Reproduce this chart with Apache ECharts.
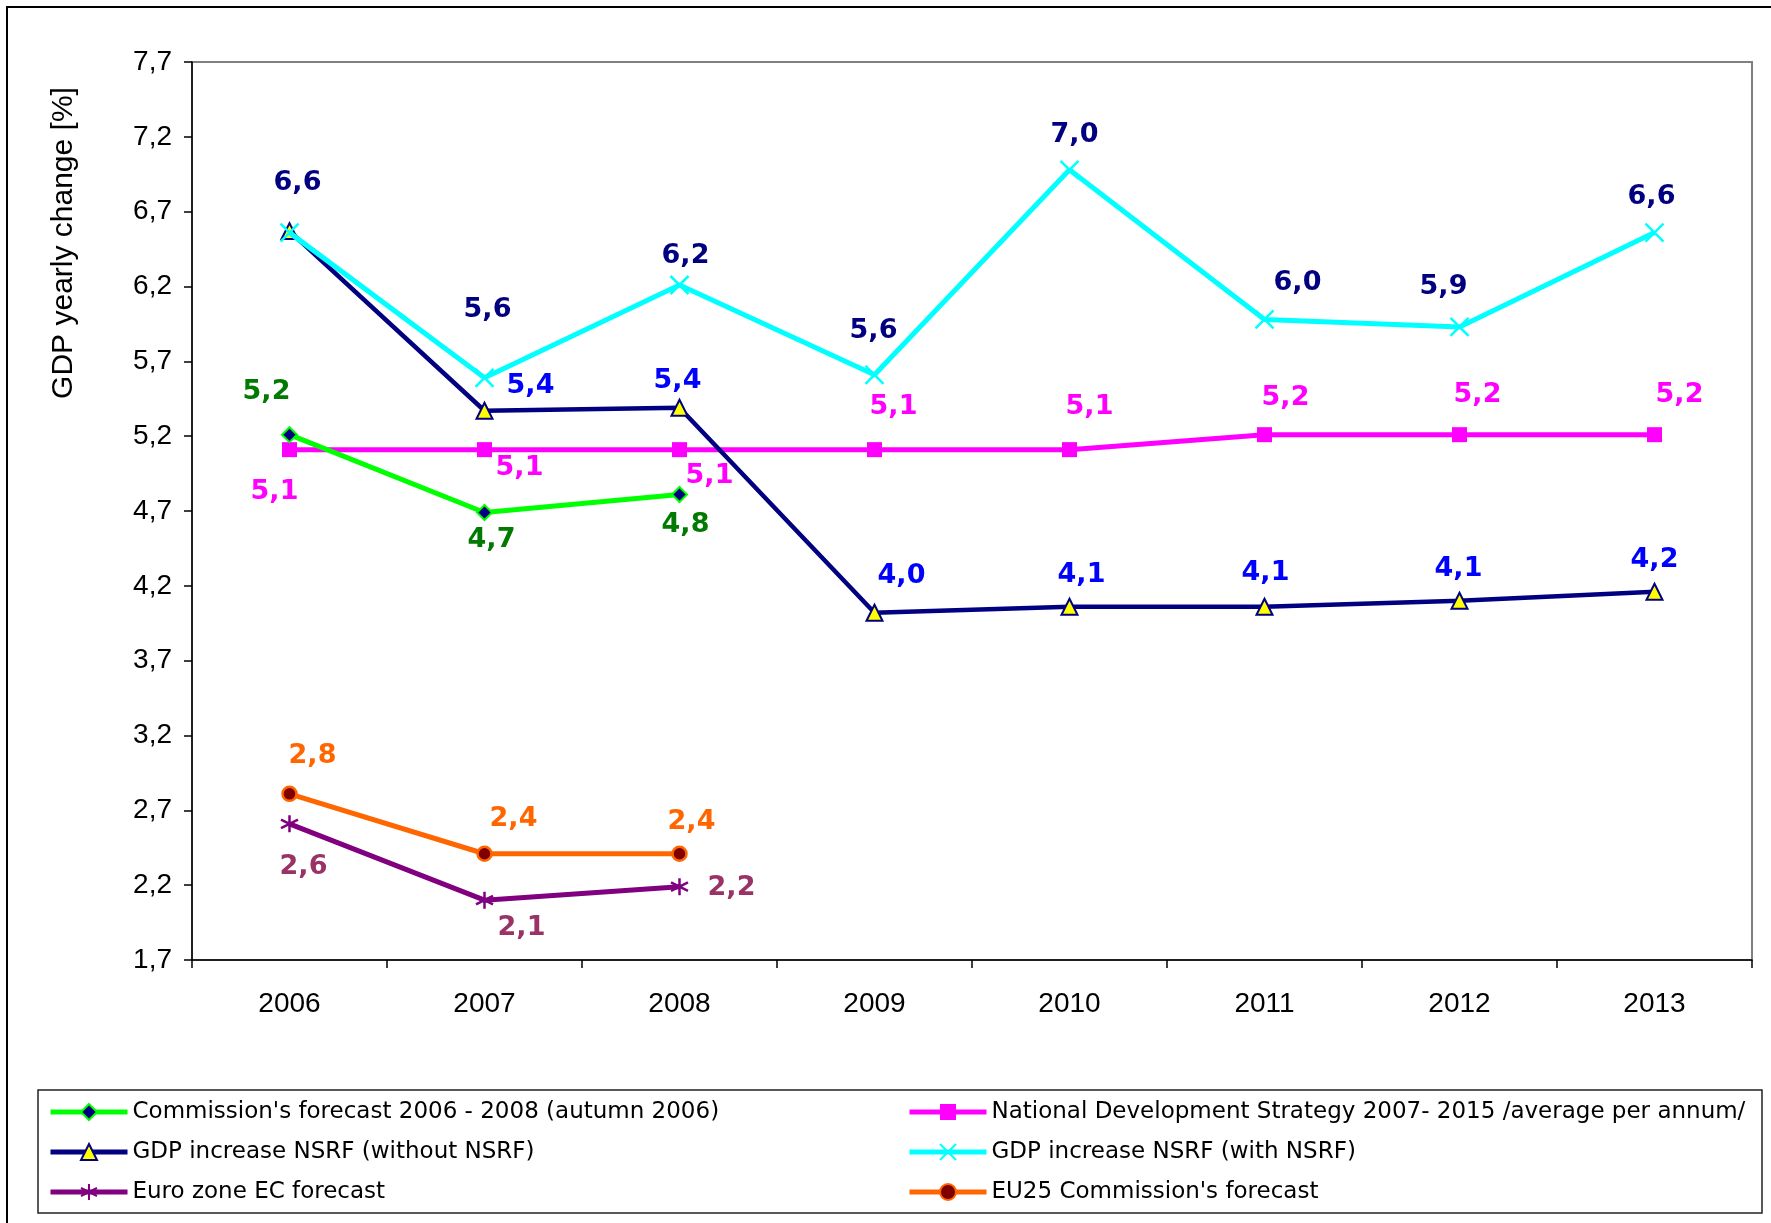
<!DOCTYPE html>
<html>
<head>
<meta charset="utf-8">
<script src="https://cdn.jsdelivr.net/npm/echarts@6/dist/echarts.min.js"></script>
<style>
  html, body { margin: 0; padding: 0; background: #fff; }
  #chart { width: 1771px; height: 1223px; }
</style>
</head>
<body>
<div id="chart"></div>
<script>
// years on the x axis
const years = ['2006', '2007', '2008', '2009', '2010', '2011', '2012', '2013'];

// series values (null = no point)
const commissionForecast = [5.21, 4.69, 4.81, null, null, null, null, null];
const nationalStrategy = [5.11, 5.11, 5.11, 5.11, 5.11, 5.21, 5.21, 5.21];
const withoutNsrf = [6.57, 5.37, 5.39, 4.02, 4.06, 4.06, 4.10, 4.16];
const withNsrf = [6.56, 5.59, 6.21, 5.61, 6.98, 5.98, 5.93, 6.56];
const euroZone = [2.61, 2.10, 2.19, null, null, null, null, null];
const eu25Forecast = [2.81, 2.41, 2.41, null, null, null, null, null];

// y axis ticks
const yMin = 1.7, yMax = 7.7, yStep = 0.5;

// label offsets (px from the marker centre), kept apart from the values
const commissionLabelOffsets = [[-23, -43], [7, 27], [6, 30]];
const strategyLabelOffsets = [[-15, 42], [35, 18], [30, 26], [19, -43], [20, -43], [21, -37], [18, -40], [25, -40]];
const withoutLabelOffsets = [null, [46, -25], [-2, -27], [27, -37], [12, -32], [1, -34], [-1, -32], [0, -32]];
const withLabelOffsets = [[8, -50], [3, -68], [6, -29], [-1, -44], [5, -35], [33, -36], [-16, -40], [-3, -36]];
const euroLabelOffsets = [[14, 43], [37, 28], [52, 1]];
const eu25LabelOffsets = [[23, -38], [29, -35], [12, -32]];

const fmt = v => v.toFixed(1).replace('.', ',');

function points(values, offsets) {
  return values.map((v, i) => {
    if (v == null) return null;
    const off = offsets[i];
    if (!off) return { value: v, label: { show: false } };
    return { value: v, label: { offset: off } };
  });
}

function labelStyle(color) {
  return {
    show: true,
    position: 'inside',
    align: 'center',
    verticalAlign: 'middle',
    color: color,
    fontFamily: 'DejaVu Sans',
    fontWeight: 'bold',
    fontSize: 27,
    formatter: p => fmt(p.value)
  };
}

const crossPath = 'path://M0,0 L10,10 M10,0 L0,10';
const starPath = 'path://M5,0 L5,10 M0.7,2.5 L9.3,7.5 M0.7,7.5 L9.3,2.5';

const legendText = { fontFamily: 'DejaVu Sans', fontSize: 23, lineHeight: 26, color: '#000' };

const chart = echarts.init(document.getElementById('chart'));

const option = {
  animation: false,
  backgroundColor: '#ffffff',
  grid: {
    left: 192, right: 19, top: 62, bottom: 263,
    show: true, borderColor: '#808080', borderWidth: 2
  },
  xAxis: {
    type: 'category',
    data: years,
    boundaryGap: true,
    axisLine: { lineStyle: { color: '#000', width: 1.5 } },
    axisTick: { show: true, length: 8, lineStyle: { color: '#000', width: 1.5 } },
    axisLabel: { margin: 30, color: '#000', fontFamily: 'Liberation Sans', fontSize: 28 },
    splitLine: { show: false }
  },
  yAxis: {
    type: 'value',
    min: yMin, max: yMax, interval: yStep,
    axisLine: { show: true, lineStyle: { color: '#000', width: 1.5 } },
    axisTick: { show: true, length: 8, lineStyle: { color: '#000', width: 1.5 } },
    axisLabel: { margin: 20, color: '#000', fontFamily: 'Liberation Sans', fontSize: 28, formatter: v => fmt(v) },
    splitLine: { show: false }
  },
  legend: [
    {
      orient: 'vertical', left: 48, top: 1099, padding: 0, itemGap: 14,
      itemWidth: 77, itemHeight: 20,
      lineStyle: { width: 5 },
      textStyle: legendText,
      data: ["Commission's forecast 2006 - 2008 (autumn 2006)", 'GDP increase NSRF (without NSRF)', 'Euro zone EC forecast']
    },
    {
      orient: 'vertical', left: 907, top: 1099, padding: 0, itemGap: 14,
      itemWidth: 77, itemHeight: 20,
      lineStyle: { width: 5 },
      textStyle: legendText,
      data: ['National Development Strategy 2007- 2015 /average per annum/', 'GDP increase NSRF (with NSRF)', "EU25 Commission's forecast"]
    }
  ],
  graphic: [
    { type: 'polyline', shape: { points: [[7, 1230], [7, 7], [1780, 7]] }, style: { stroke: '#000', lineWidth: 2, fill: null }, silent: true },
    { type: 'rect', shape: { x: 38, y: 1090, width: 1724, height: 123 }, style: { stroke: '#222', lineWidth: 1.5, fill: null }, silent: true, z: -1 },
    {
      type: 'text', x: 64, y: 243, rotation: Math.PI / 2,
      style: { text: 'GDP yearly change [%]', font: '30px "Liberation Sans"', fill: '#000', textAlign: 'center', textVerticalAlign: 'middle' },
      silent: true
    }
  ],
  series: [
    {
      name: 'National Development Strategy 2007- 2015 /average per annum/',
      type: 'line', z: 2,
      data: points(nationalStrategy, strategyLabelOffsets),
      symbol: 'rect', symbolSize: 15,
      lineStyle: { color: '#FF00FF', width: 5 },
      itemStyle: { color: '#FF00FF' },
      label: labelStyle('#FF00FF')
    },
    {
      name: "Commission's forecast 2006 - 2008 (autumn 2006)",
      type: 'line', z: 3,
      data: points(commissionForecast, commissionLabelOffsets),
      symbol: 'diamond', symbolSize: 15,
      lineStyle: { color: '#00FF00', width: 5 },
      itemStyle: { color: '#000080', borderColor: '#00FF00', borderWidth: 2 },
      label: labelStyle('#007A00')
    },
    {
      name: 'GDP increase NSRF (without NSRF)',
      type: 'line', z: 4,
      data: points(withoutNsrf, withoutLabelOffsets),
      symbol: 'triangle', symbolSize: 16,
      lineStyle: { color: '#000080', width: 4.5 },
      itemStyle: { color: '#FFFF00', borderColor: '#000080', borderWidth: 2 },
      label: labelStyle('#0000FF')
    },
    {
      name: 'GDP increase NSRF (with NSRF)',
      type: 'line', z: 5,
      data: points(withNsrf, withLabelOffsets),
      symbol: crossPath, symbolSize: 18,
      lineStyle: { color: '#00FFFF', width: 5 },
      itemStyle: { color: 'rgba(0,0,0,0)', borderColor: '#00FFFF', borderWidth: 2.5 },
      label: labelStyle('#000080')
    },
    {
      name: 'Euro zone EC forecast',
      type: 'line', z: 4,
      data: points(euroZone, euroLabelOffsets),
      symbol: starPath, symbolSize: 17,
      lineStyle: { color: '#800080', width: 5 },
      itemStyle: { color: 'rgba(0,0,0,0)', borderColor: '#800080', borderWidth: 2.5 },
      label: labelStyle('#993366')
    },
    {
      name: "EU25 Commission's forecast",
      type: 'line', z: 4,
      data: points(eu25Forecast, eu25LabelOffsets),
      symbol: 'circle', symbolSize: 14,
      lineStyle: { color: '#FF6600', width: 5 },
      itemStyle: { color: '#800000', borderColor: '#FF6600', borderWidth: 2.5 },
      label: labelStyle('#FF6600')
    }
  ]
};

chart.setOption(option);
</script>
</body>
</html>
